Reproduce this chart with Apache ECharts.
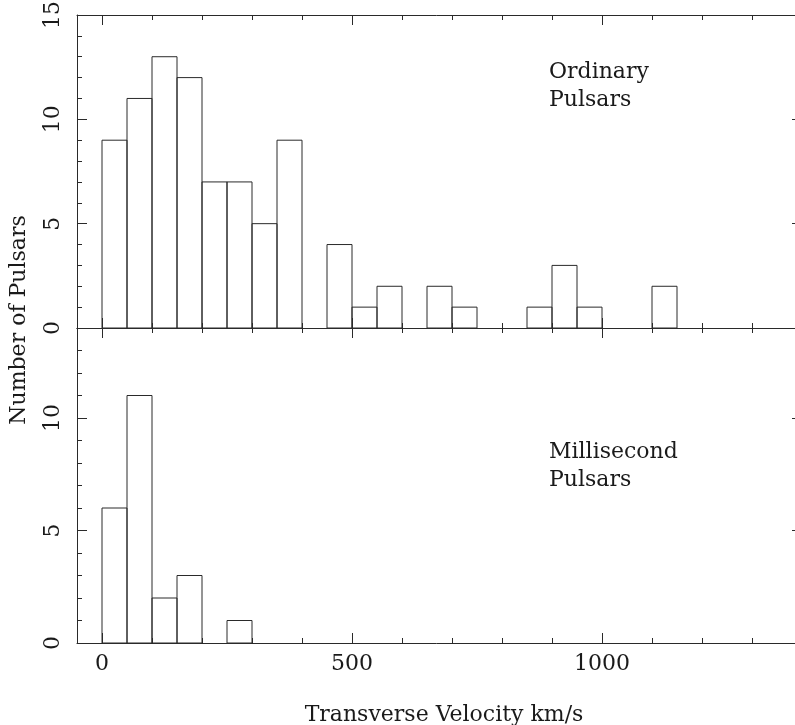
<!DOCTYPE html>
<html>
<head>
<meta charset="utf-8">
<script src="https://cdn.jsdelivr.net/npm/echarts@6/dist/echarts.min.js"></script>
<style>
html,body{margin:0;padding:0;background:#fff;}
#chart{width:795px;height:725px;}
</style>
</head>
<body>
<div id="chart"></div>
<script>
// ---- data ----
const ordinaryBinStart = [0, 50, 100, 150, 200, 250, 300, 350, 400, 450, 500, 550, 600, 650, 700, 750, 800, 850, 900, 950, 1000, 1050, 1100];
const ordinaryBinEnd   = [50, 100, 150, 200, 250, 300, 350, 400, 450, 500, 550, 600, 650, 700, 750, 800, 850, 900, 950, 1000, 1050, 1100, 1150];
const ordinaryCounts   = [9, 11, 13, 12, 7, 7, 5, 9, 0, 4, 1, 2, 0, 2, 1, 0, 0, 1, 3, 1, 0, 0, 2];

const msBinStart = [0, 50, 100, 150, 200, 250];
const msBinEnd   = [50, 100, 150, 200, 250, 300];
const msCounts   = [6, 11, 2, 3, 0, 1];

const xMajorTicks = [0, 500, 1000];
const xMinorTicks = [100, 200, 300, 400, 600, 700, 800, 900, 1100, 1200, 1300];
const yTopMajorTicks = [0, 5, 10, 15];
const yBottomMajorTicks = [0, 5, 10];

const xTitle = 'Transverse Velocity km/s';
const yTitle = 'Number of Pulsars';
const topLabel = 'Ordinary\nPulsars';
const bottomLabel = 'Millisecond\nPulsars';

// ---- style ----
const FONT = 'DejaVu Serif';
const FS = 22;
const LINE = '#2a2a2a';
const TEXT = '#1a1a1a';

const chart = echarts.init(document.getElementById('chart'), null, {renderer: 'canvas'});

const grids = [
  {left: 77, top: 15, width: 725, height: 313, outerBoundsMode: 'none', containLabel: false},
  {left: 77, top: 328, width: 725, height: 315, outerBoundsMode: 'none', containLabel: false}
];
const yMax = [15, 14];
const yMajor = [yTopMajorTicks, yBottomMajorTicks];

const xAxes = [];
const yAxes = [];
grids.forEach((g, gi) => {
  ['bottom', 'top'].forEach(pos => {
    xAxes.push({
      type: 'value', gridIndex: gi, position: pos, min: -50, max: 1400,
      axisLine: {show: true, onZero: false, lineStyle: {color: LINE, width: 1}},
      axisTick: {show: true, inside: true, length: 10, customValues: xMajorTicks, lineStyle: {color: LINE, width: 1}},
      axisLabel: (gi === 1 && pos === 'bottom') ?
        {show: true, customValues: xMajorTicks, margin: 10, color: TEXT, fontFamily: FONT, fontSize: FS, formatter: v => String(v)} :
        {show: false},
      splitLine: {show: false}
    });
    xAxes.push({
      type: 'value', gridIndex: gi, position: pos, min: -50, max: 1400,
      axisLine: {show: false, onZero: false},
      axisTick: {show: true, inside: true, length: 5, customValues: xMinorTicks, lineStyle: {color: LINE, width: 1}},
      axisLabel: {show: false},
      splitLine: {show: false}
    });
  });
  ['left', 'right'].forEach(pos => {
    yAxes.push({
      type: 'value', gridIndex: gi, position: pos, min: 0, max: yMax[gi],
      axisLine: {show: true, onZero: false, lineStyle: {color: LINE, width: 1}},
      axisTick: {show: true, inside: true, length: 10, customValues: yMajor[gi], lineStyle: {color: LINE, width: 1}},
      axisLabel: pos === 'left' ?
        {show: true, customValues: yMajor[gi], rotate: 90, margin: 13, color: TEXT, fontFamily: FONT, fontSize: FS, formatter: v => String(v)} :
        {show: false},
      splitLine: {show: false}
    });
    yAxes.push({
      type: 'value', gridIndex: gi, position: pos, min: 0, max: yMax[gi], interval: 1,
      axisLine: {show: false, onZero: false},
      axisTick: {show: true, inside: true, length: 5, lineStyle: {color: LINE, width: 1}},
      axisLabel: {show: false},
      splitLine: {show: false}
    });
  });
});

function histItem(params, api) {
  const x0 = api.value(0), x1 = api.value(1), c = api.value(2);
  if (!c) return null;
  const p0 = api.coord([x0, c]);
  const p1 = api.coord([x1, 0]);
  return {
    type: 'rect',
    shape: {x: p0[0], y: p0[1], width: p1[0] - p0[0], height: p1[1] - p0[1]},
    style: {fill: 'rgba(0,0,0,0)', stroke: LINE, lineWidth: 1}
  };
}

const ordinaryData = ordinaryCounts.map((c, i) => [ordinaryBinStart[i], ordinaryBinEnd[i], c]);
const msData = msCounts.map((c, i) => [msBinStart[i], msBinEnd[i], c]);

const fontStr = FS + 'px "' + FONT + '"';

chart.setOption({
  animation: false,
  backgroundColor: '#fff',
  grid: grids,
  xAxis: xAxes,
  yAxis: yAxes,
  series: [
    {type: 'custom', xAxisIndex: 0, yAxisIndex: 0, renderItem: histItem, data: ordinaryData, encode: {x: [0, 1], y: 2}, silent: true, clip: false},
    {type: 'custom', xAxisIndex: 4, yAxisIndex: 4, renderItem: histItem, data: msData, encode: {x: [0, 1], y: 2}, silent: true, clip: false}
  ],
  graphic: [
    {type: 'text', left: 549, top: 58, style: {text: topLabel, font: fontStr, fill: TEXT, lineHeight: 28}},
    {type: 'text', left: 549, top: 438, style: {text: bottomLabel, font: fontStr, fill: TEXT, lineHeight: 28}},
    {type: 'text', x: 444, y: 715, style: {text: xTitle, font: fontStr, fill: TEXT, align: 'center', verticalAlign: 'middle'}},
    {type: 'text', x: 19, y: 320, rotation: Math.PI / 2, style: {text: yTitle, font: fontStr, fill: TEXT, align: 'center', verticalAlign: 'middle'}}
  ]
});
</script>
</body>
</html>
